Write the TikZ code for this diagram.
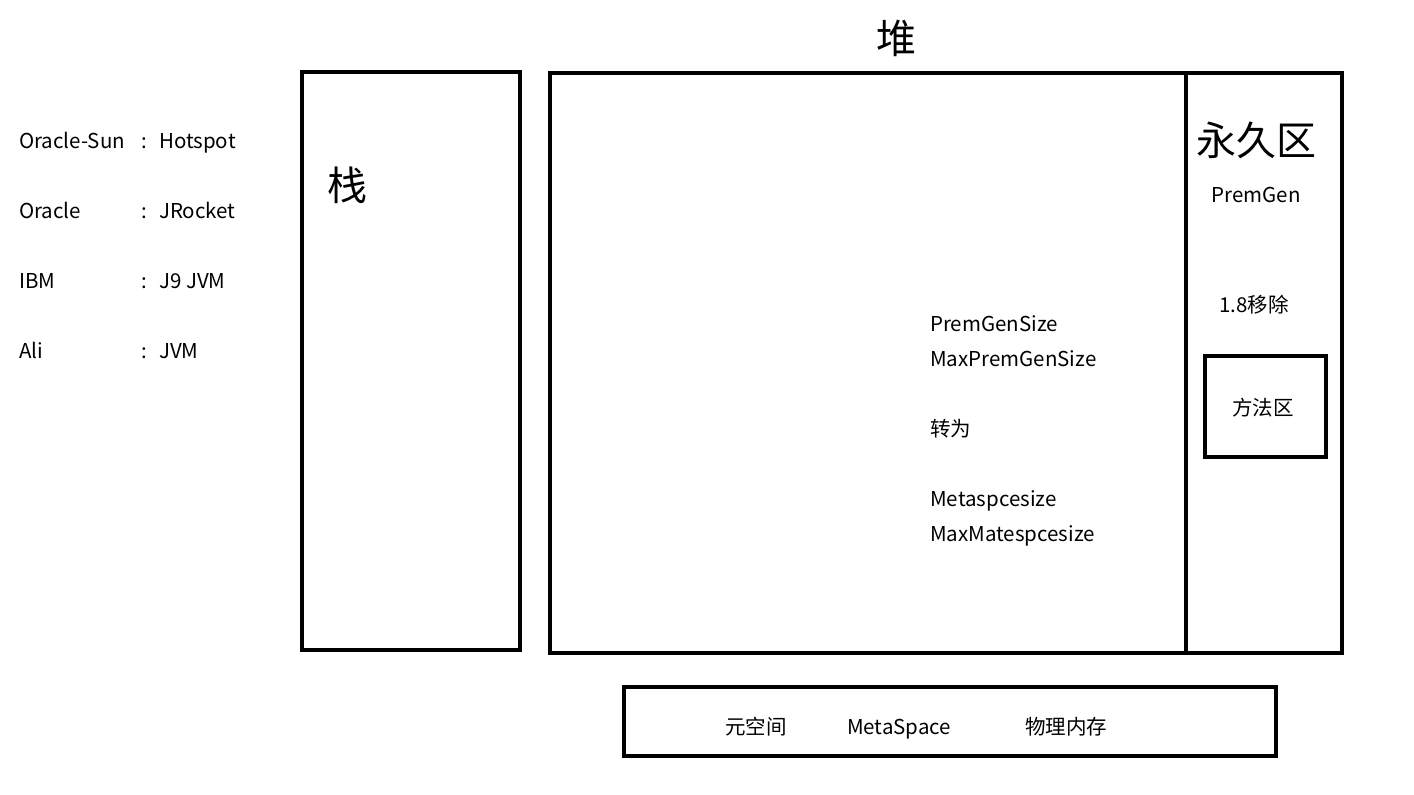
\documentclass[tikz,border=0pt]{standalone}
\usepackage{fontspec}
\setmainfont{Noto Sans CJK SC}
\usetikzlibrary{positioning}
\tikzset{
  area/.style={
    rectangle,
    draw=black, line width=4pt,
    inner sep=0pt},
  big/.style={font=\fontsize{40}{42}\selectfont, inner sep=0pt},
  txt/.style={font=\fontsize{20.5}{22}\selectfont, inner sep=0pt,
    text height=17pt, text depth=2pt},
  entry/.style={txt, anchor=west},
}
\begin{document}
\begin{tikzpicture}[x=1pt,y=-1pt]
\useasboundingbox (0,0) rectangle (1414,795);
% boxes
\draw[area] (302,72) rectangle (520,650);
\draw[area] (550,73) rectangle (1342,653);
\draw[line width=4pt] (1186,73) -- (1186,653);
\draw[area] (1205,356) rectangle (1326,457);
\draw[area] (624,687) rectangle (1276,756);
% titles
\node[big] (heap) at (896,38) {堆};
\node[big] (stack) at (347,185) {栈};
\node[big] (perm) at (1256,140) {永久区};
\node[txt] (premgen) at (1256,195) {PremGen};
\node[txt] (removed) at (1254,305) {1.8移除};
\node[txt] (method) at (1263,408) {方法区};
% vendors
\node[entry] (sun) at (19,141) {Oracle-Sun};
\node[entry] (oracle) at (19,211) {Oracle};
\node[entry] (ibm) at (19,281) {IBM};
\node[entry] (ali) at (19,351) {Ali};
\foreach \y/\v in {141/Hotspot, 211/JRocket, 281/J9 JVM, 351/JVM}{
  \node[entry] at (141,\y) {:};
  \node[entry] at (159,\y) {\v};
}
% heap notes
\node[entry] (size) at (930,324) {PremGenSize};
\node[entry] (maxsize) at (930,359) {MaxPremGenSize};
\node[entry] (turn) at (930,429) {转为};
\node[entry] (meta) at (930,499) {Metaspcesize};
\node[entry] (maxmeta) at (930,534) {MaxMatespcesize};
% metaspace
\node[txt] (yuan) at (756,727) {元空间};
\node[txt] (metaspace) at (899,727) {MetaSpace};
\node[txt] (phys) at (1066,727) {物理内存};
\end{tikzpicture}
\end{document}
